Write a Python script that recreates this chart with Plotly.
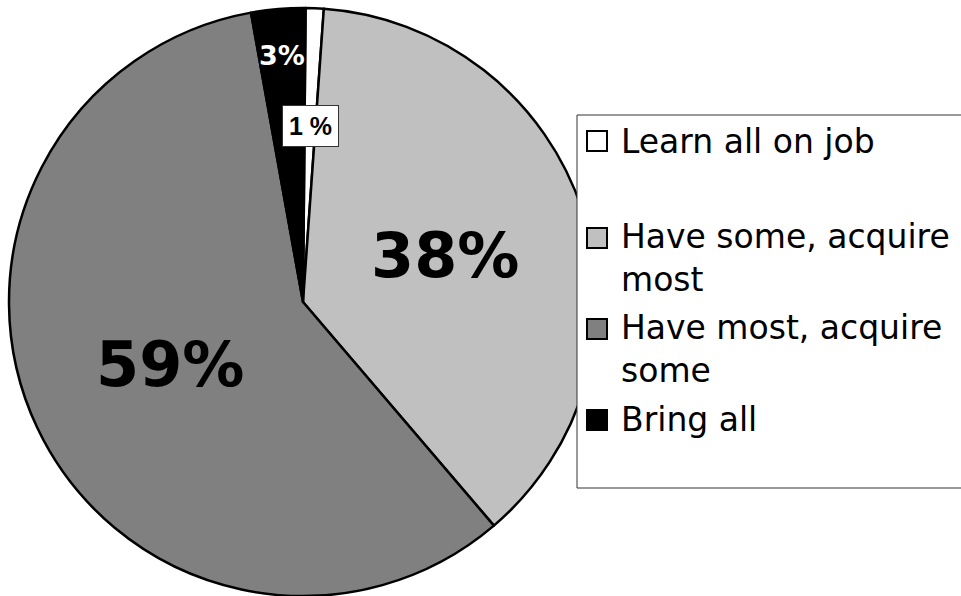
import math
import plotly.graph_objects as go

# ---- data ----
CATEGORIES = ["Learn all on job", "Have some, acquire most", "Have most, acquire some", "Bring all"]
LEGEND_TEXT = ["Learn all on job", "Have some, acquire<br>most", "Have most, acquire<br>some", "Bring all"]
VALUES = [1, 38, 59, 3]
PCT_TEXT = ["1 %", "38%", "59%", "3%"]

# ---- style ----
COLORS = ["#ffffff", "#c0c0c0", "#808080", "#000000"]
W, H = 961, 596
CX, CY, R = 303, 302, 294
ROTATION = 0.5
LABEL_RADIUS = [0.60, 0.51, 0.50, 0.84]
LABEL_SIZE = [25, 62, 62, 27]
LABEL_COLOR = ["black", "black", "black", "white"]
LABEL_FONT = ["Liberation Sans, Arial", "DejaVu Sans", "DejaVu Sans", "DejaVu Sans"]
FONT = "DejaVu Sans"

fig = go.Figure()
fig.add_trace(go.Pie(
    labels=CATEGORIES, values=VALUES, sort=False, direction="clockwise",
    rotation=ROTATION, textinfo="none", hoverinfo="label+percent",
    marker=dict(colors=COLORS, line=dict(color="black", width=2.5)),
    domain=dict(x=[(CX - R) / W, (CX + R) / W], y=[1 - (CY + R) / H, 1 - (CY - R) / H]),
    showlegend=False,
))

# slice labels positioned from the data's cumulative angles
total = sum(VALUES)
start = ROTATION
anns = []
for i, v in enumerate(VALUES):
    span = v / total * 360
    mid = math.radians(start + span / 2)
    start += span
    px = CX + LABEL_RADIUS[i] * R * math.sin(mid)
    py = CY - LABEL_RADIUS[i] * R * math.cos(mid)
    a = dict(x=px / W, y=1 - py / H, xref="paper", yref="paper", text=PCT_TEXT[i],
             showarrow=False, xanchor="center", yanchor="middle",
             font=dict(family=LABEL_FONT[i], size=LABEL_SIZE[i], color=LABEL_COLOR[i], weight="bold"))
    if i == 0:
        a.update(bgcolor="white", bordercolor="#333333", borderwidth=1, borderpad=6)
    anns.append(a)

# legend box drawn manually
shapes = [dict(type="rect", xref="paper", yref="paper",
               x0=577 / W, x1=1.05, y0=1 - 488 / H, y1=1 - 115 / H,
               line=dict(color="#333333", width=1), fillcolor="white", layer="above")]
ROW_Y = [141, 238, 329, 420]
TEXT_TOP = [120, 215, 306, 398]
for i, cat in enumerate(CATEGORIES):
    yc = ROW_Y[i]
    shapes.append(dict(type="rect", xref="paper", yref="paper",
                       x0=587 / W, x1=607 / W, y0=1 - (yc + 10) / H, y1=1 - (yc - 10) / H,
                       line=dict(color="black", width=2), fillcolor=COLORS[i], layer="above"))
    anns.append(dict(x=619 / W, y=1 - TEXT_TOP[i] / H, xref="paper", yref="paper",
                     text=LEGEND_TEXT[i], showarrow=False, xanchor="left", yanchor="top",
                     align="left", font=dict(family=FONT, size=33, color="black")))

fig.update_layout(
    width=W, height=H, margin=dict(l=0, r=0, t=0, b=0),
    paper_bgcolor="white", plot_bgcolor="white",
    shapes=shapes, annotations=anns, showlegend=False,
)
fig.write_html("out.html")
